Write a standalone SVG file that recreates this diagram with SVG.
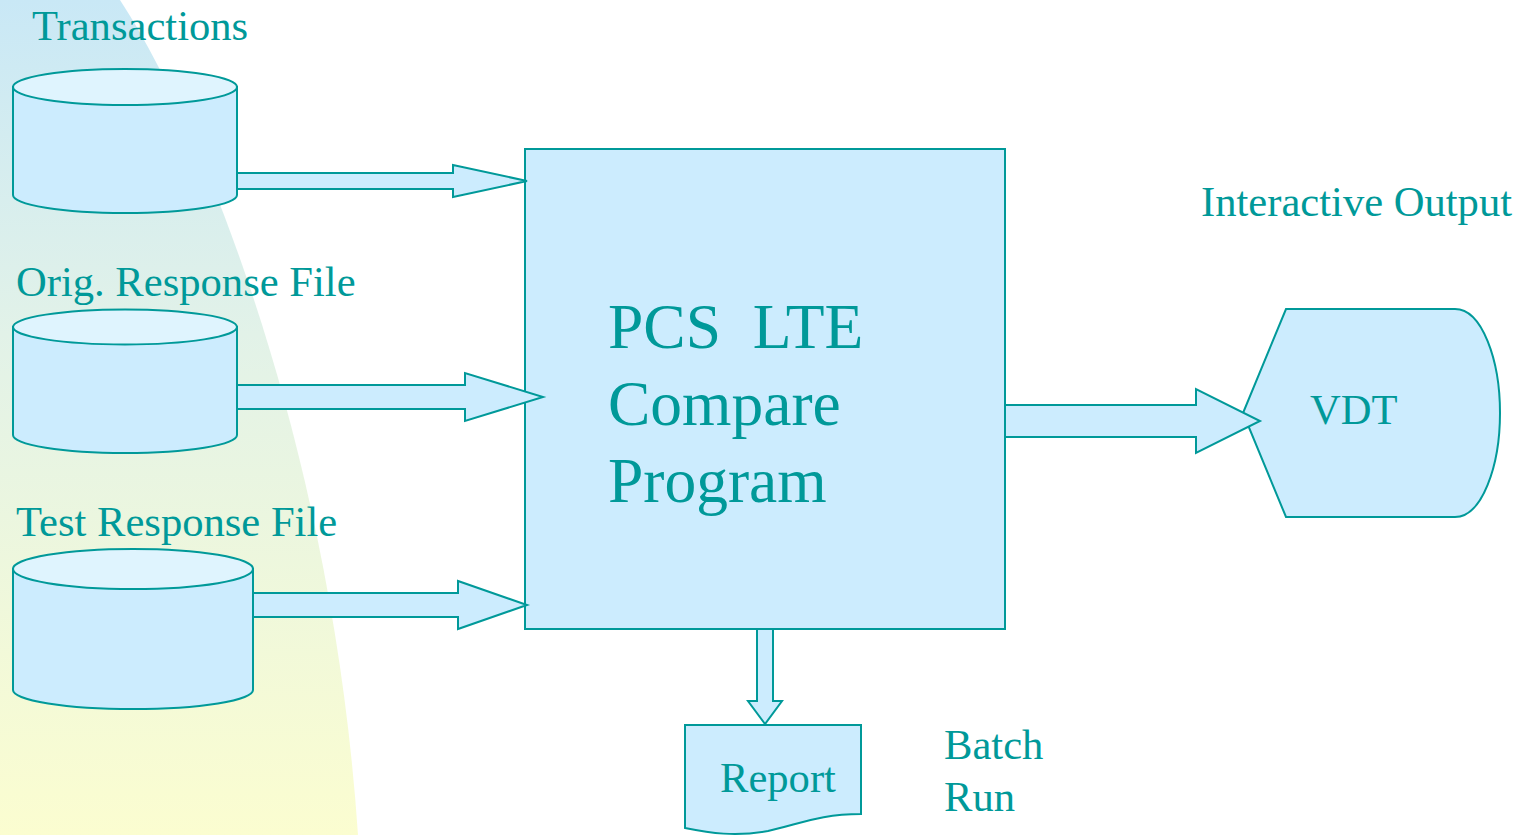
<svg xmlns="http://www.w3.org/2000/svg" width="1526" height="835" viewBox="0 0 1526 835">
<defs>
<linearGradient id="bg" x1="0" y1="0" x2="0" y2="1">
<stop offset="0" stop-color="#c9e8f6"/>
<stop offset="0.4" stop-color="#e2f2e8"/>
<stop offset="1" stop-color="#fbfdd0"/>
</linearGradient>
</defs>
<style>
.s{fill:#ccecfe;stroke:#009999;stroke-width:2}
.top{fill:#dff4fe;stroke:#009999;stroke-width:2}
.t{font-family:"Liberation Serif",serif;fill:#009999;font-size:42.6px}
.big{font-family:"Liberation Serif",serif;fill:#009999;font-size:63.5px;white-space:pre}
</style>
<rect width="1526" height="835" fill="#ffffff"/>
<path d="M0,0 L120,0 C205,130 332,450 358,835 L0,835 Z" fill="url(#bg)"/>

<g id="transactions">
<path class="s" d="M13,87 L13,195 A112,18 0 0 0 237,195 L237,87 Z"/>
<ellipse class="top" cx="125" cy="87" rx="112" ry="18"/>
<text class="t" x="32" y="40">Transactions</text>
</g>

<g id="orig">
<path class="s" d="M13,327 L13,435 A112,18 0 0 0 237,435 L237,327 Z"/>
<ellipse class="top" cx="125" cy="327" rx="112" ry="17.5"/>
<text class="t" x="16" y="296">Orig. Response File</text>
</g>

<g id="test">
<path class="s" d="M13,569 L13,690 A120,19 0 0 0 253,690 L253,569 Z"/>
<ellipse class="top" cx="133" cy="569" rx="120" ry="20"/>
<text class="t" x="16" y="536">Test Response File</text>
</g>

<g id="program">
<rect class="s" x="525" y="149" width="480" height="480"/>
<text class="big" x="608" y="348">PCS  LTE</text>
<text class="big" x="608" y="425">Compare</text>
<text class="big" x="608" y="502">Program</text>
</g>

<g id="vdt">
<path class="s" d="M1286,309 L1455,309 C1482,309 1500,360 1500,413 C1500,466 1482,517 1455,517 L1286,517 L1243,413 Z"/>
<text class="t" x="1310" y="424">VDT</text>
</g>

<g id="interactive">
<text class="t" x="1201" y="216">Interactive Output</text>
</g>

<g id="report">
<path class="s" d="M685,725 L861,725 L861,814 C820,814 800,824 768,831 C735,837 710,833 685,828 Z"/>
<text class="t" x="720" y="792">Report</text>
</g>

<g id="batch">
<text class="t" x="944" y="759">Batch</text>
<text class="t" x="944" y="811">Run</text>
</g>

<g id="connectors">
<path class="s" d="M237,173 L453,173 L453,165 L527,181 L453,197 L453,189 L237,189 Z"/>
<path class="s" d="M237,385 L465,385 L465,373 L543,397 L465,421 L465,409 L237,409 Z"/>
<path class="s" d="M253,593 L458,593 L458,581 L527,605 L458,629 L458,617 L253,617 Z"/>
<path class="s" d="M1005,405 L1196,405 L1196,389 L1260,421 L1196,453 L1196,437 L1005,437 Z"/>
<path class="s" d="M757,629 L757,701 L748,701 L765,724 L782,701 L773,701 L773,629 Z"/>
</g>
</svg>
